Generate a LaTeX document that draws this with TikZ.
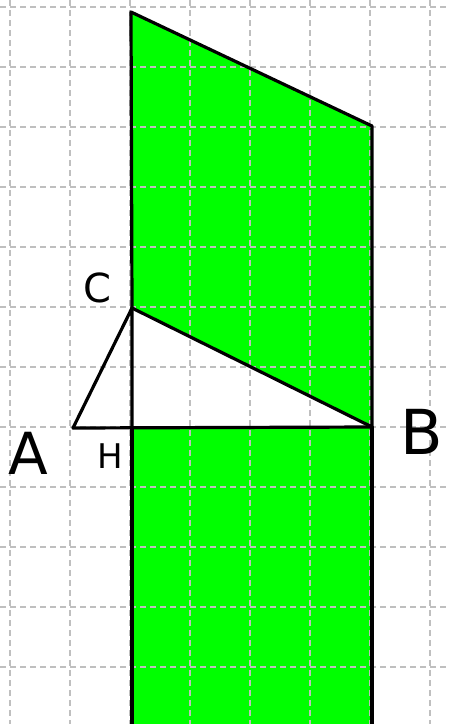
\documentclass[tikz,border=0pt]{standalone}
\usepackage{fontspec}
\setsansfont{DejaVu Sans}
\begin{document}
\begin{tikzpicture}[x=1pt,y=-1pt,
  gridline/.style={draw=black!25,line width=1.8pt,dash pattern=on 6pt off 4pt},
  edge/.style={draw=black,line width=3.2pt,line cap=round,line join=round},
  greenarea/.style={fill=green},
  lbl/.style={font=\sffamily,inner sep=0pt}]
\useasboundingbox (0,0) rectangle (449,724);
\fill[white] (0,0) rectangle (449,724);
% green areas
\fill[greenarea] (131,12) -- (372,126) -- (372,427) -- (132,308) -- cycle;
\fill[greenarea] (132,428) rectangle (372,730);
% grid
\foreach \gx in {10,70,...,430} \draw[gridline] (\gx,0) -- (\gx,724);
\foreach \gy in {7,67,...,667} \draw[gridline] (0,\gy) -- (449,\gy);
% points
\coordinate (T) at (131,12);
\coordinate (U) at (372,126);
\coordinate (C) at (132,308);
\coordinate (B) at (372,427);
\coordinate (A) at (73,428);
\coordinate (H) at (132,428);
\coordinate (Hb) at (132,730);
\coordinate (Bb) at (372,730);
% outlines
\draw[edge] (T) -- (U) -- (B) -- (C) -- cycle;
\draw[edge] (A) -- (C) -- (H);
\draw[edge] (A) -- (B);
\draw[edge] (H) -- (Hb);
\draw[edge] (B) -- (Bb);
% labels
\node[lbl,font=\sffamily\fontsize{40}{40}\selectfont] (lC) at (97,288) {C};
\node[lbl,font=\sffamily\fontsize{58}{58}\selectfont] (lA) at (28,453) {A};
\node[lbl,font=\sffamily\fontsize{34}{34}\selectfont] (lH) at (110,456) {H};
\node[lbl,font=\sffamily\fontsize{62}{62}\selectfont] (lB) at (422,432) {B};
\end{tikzpicture}
\end{document}
